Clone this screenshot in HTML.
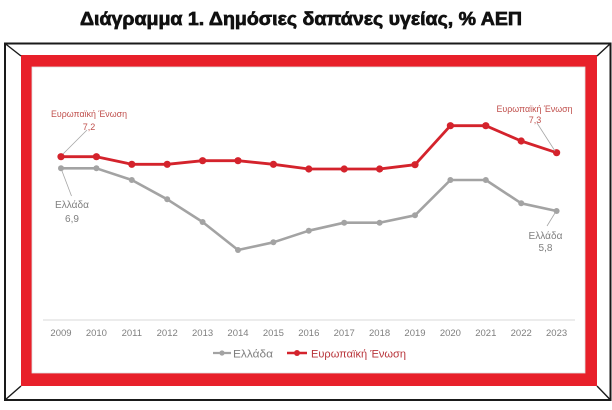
<!DOCTYPE html>
<html>
<head>
<meta charset="utf-8">
<style>
  html,body{margin:0;padding:0;background:#fff;}
  svg{display:block;}
</style>
</head>
<body>
<svg width="612" height="410" viewBox="0 0 612 410" xmlns="http://www.w3.org/2000/svg">
  <rect x="0" y="0" width="612" height="410" fill="#fff"/>
  <!-- Title -->
  <text x="80" y="25" font-family="Liberation Sans, sans-serif" font-weight="bold" font-size="18" fill="#111" stroke="#111" stroke-width="0.7" textLength="442" lengthAdjust="spacingAndGlyphs">Διάγραμμα 1. Δημόσιες δαπάνες υγείας, % ΑΕΠ</text>

  <!-- Outer black frame -->
  <rect x="5" y="43.5" width="605.5" height="356.5" fill="none" stroke="#1a1a1a" stroke-width="2"/>
  <!-- Red frame -->
  <rect x="21" y="55" width="576" height="331" fill="#e8202a"/>
  <rect x="32" y="67" width="553" height="306" fill="#fff" stroke="#e0e0e0" stroke-width="0.8"/>
  <!-- corner diagonals -->
  <g stroke="#1a1a1a" stroke-width="1.4">
    <line x1="5" y1="43.5" x2="21" y2="56"/>
    <line x1="610.5" y1="43.5" x2="597" y2="56"/>
    <line x1="5" y1="400" x2="21" y2="386"/>
    <line x1="610.5" y1="400" x2="597" y2="386"/>
  </g>

  <!-- axis baseline -->
  <line x1="43" y1="320" x2="575" y2="320" stroke="#d9d9d9" stroke-width="1"/>

  <!-- year labels -->
  <g font-family="Liberation Sans, sans-serif" font-size="9.5" fill="#7f7f7f" text-anchor="middle">
    <text x="61" y="336">2009</text>
    <text x="96.4" y="336">2010</text>
    <text x="131.8" y="336">2011</text>
    <text x="167.2" y="336">2012</text>
    <text x="202.6" y="336">2013</text>
    <text x="238" y="336">2014</text>
    <text x="273.4" y="336">2015</text>
    <text x="308.8" y="336">2016</text>
    <text x="344.2" y="336">2017</text>
    <text x="379.6" y="336">2018</text>
    <text x="415" y="336">2019</text>
    <text x="450.4" y="336">2020</text>
    <text x="485.8" y="336">2021</text>
    <text x="521.2" y="336">2022</text>
    <text x="556.6" y="336">2023</text>
  </g>

  <!-- Greece series -->
  <polyline fill="none" stroke="#a3a3a3" stroke-width="2.6" stroke-linejoin="round"
    points="61,168.3 96.4,168.3 131.8,180 167.2,199.3 202.6,222 238,250 273.4,242.3 308.8,230.7 344.2,222.7 379.6,222.7 415,215.3 450.4,180 485.8,180 521.2,203.3 556.6,211"/>
  <g fill="#a3a3a3">
    <circle cx="61" cy="168.3" r="3"/><circle cx="96.4" cy="168.3" r="3"/><circle cx="131.8" cy="180" r="3"/>
    <circle cx="167.2" cy="199.3" r="3"/><circle cx="202.6" cy="222" r="3"/><circle cx="238" cy="250" r="3"/>
    <circle cx="273.4" cy="242.3" r="3"/><circle cx="308.8" cy="230.7" r="3"/><circle cx="344.2" cy="222.7" r="3"/>
    <circle cx="379.6" cy="222.7" r="3"/><circle cx="415" cy="215.3" r="3"/><circle cx="450.4" cy="180" r="3"/>
    <circle cx="485.8" cy="180" r="3"/><circle cx="521.2" cy="203.3" r="3"/><circle cx="556.6" cy="211" r="3"/>
  </g>

  <!-- EU series -->
  <polyline fill="none" stroke="#d4232c" stroke-width="2.8" stroke-linejoin="round"
    points="61,156.7 96.4,156.7 131.8,164.3 167.2,164.3 202.6,160.7 238,160.7 273.4,164.3 308.8,169 344.2,169 379.6,169 415,164.7 450.4,125.7 485.8,125.7 521.2,141 556.6,152.7"/>
  <g fill="#d4232c">
    <circle cx="61" cy="156.7" r="3.6"/><circle cx="96.4" cy="156.7" r="3.6"/><circle cx="131.8" cy="164.3" r="3.6"/>
    <circle cx="167.2" cy="164.3" r="3.6"/><circle cx="202.6" cy="160.7" r="3.6"/><circle cx="238" cy="160.7" r="3.6"/>
    <circle cx="273.4" cy="164.3" r="3.6"/><circle cx="308.8" cy="169" r="3.6"/><circle cx="344.2" cy="169" r="3.6"/>
    <circle cx="379.6" cy="169" r="3.6"/><circle cx="415" cy="164.7" r="3.6"/><circle cx="450.4" cy="125.7" r="3.6"/>
    <circle cx="485.8" cy="125.7" r="3.6"/><circle cx="521.2" cy="141" r="3.6"/><circle cx="556.6" cy="152.7" r="3.6"/>
  </g>

  <!-- leader lines -->
  <g stroke="#a6a6a6" stroke-width="0.8">
    <line x1="87" y1="130" x2="63" y2="154"/>
    <line x1="62" y1="171" x2="71.5" y2="196"/>
    <line x1="537" y1="123" x2="555" y2="151"/>
    <line x1="555" y1="213" x2="547" y2="226"/>
  </g>

  <!-- data labels -->
  <g font-family="Liberation Sans, sans-serif" font-size="9" text-anchor="middle">
    <text x="89" y="117" fill="#c0504d" textLength="76" lengthAdjust="spacingAndGlyphs">Ευρωπαϊκή Ένωση</text>
    <text x="89" y="130" fill="#c0504d">7,2</text>
    <text x="534.5" y="112" fill="#c0504d" textLength="76" lengthAdjust="spacingAndGlyphs">Ευρωπαϊκή Ένωση</text>
    <text x="535" y="123" fill="#c0504d">7,3</text>
  </g>
  <g font-family="Liberation Sans, sans-serif" font-size="10" text-anchor="middle" fill="#7f7f7f">
    <text x="72" y="208" textLength="34" lengthAdjust="spacingAndGlyphs">Ελλάδα</text>
    <text x="72" y="222">6,9</text>
    <text x="545.5" y="239" textLength="34" lengthAdjust="spacingAndGlyphs">Ελλάδα</text>
    <text x="545.5" y="251">5,8</text>
  </g>

  <!-- legend -->
  <line x1="213" y1="353" x2="231" y2="353" stroke="#a3a3a3" stroke-width="2.2"/>
  <circle cx="222" cy="353" r="2.6" fill="#a3a3a3"/>
  <text x="233" y="357.5" font-family="Liberation Sans, sans-serif" font-size="11" fill="#7f7f7f" textLength="40" lengthAdjust="spacingAndGlyphs">Ελλάδα</text>
  <line x1="287" y1="353" x2="307" y2="353" stroke="#d4232c" stroke-width="2.6"/>
  <circle cx="297" cy="353" r="3" fill="#d4232c"/>
  <text x="311" y="357.5" font-family="Liberation Sans, sans-serif" font-size="11" fill="#b8343a" textLength="95" lengthAdjust="spacingAndGlyphs">Ευρωπαϊκή Ένωση</text>
</svg>
</body>
</html>
